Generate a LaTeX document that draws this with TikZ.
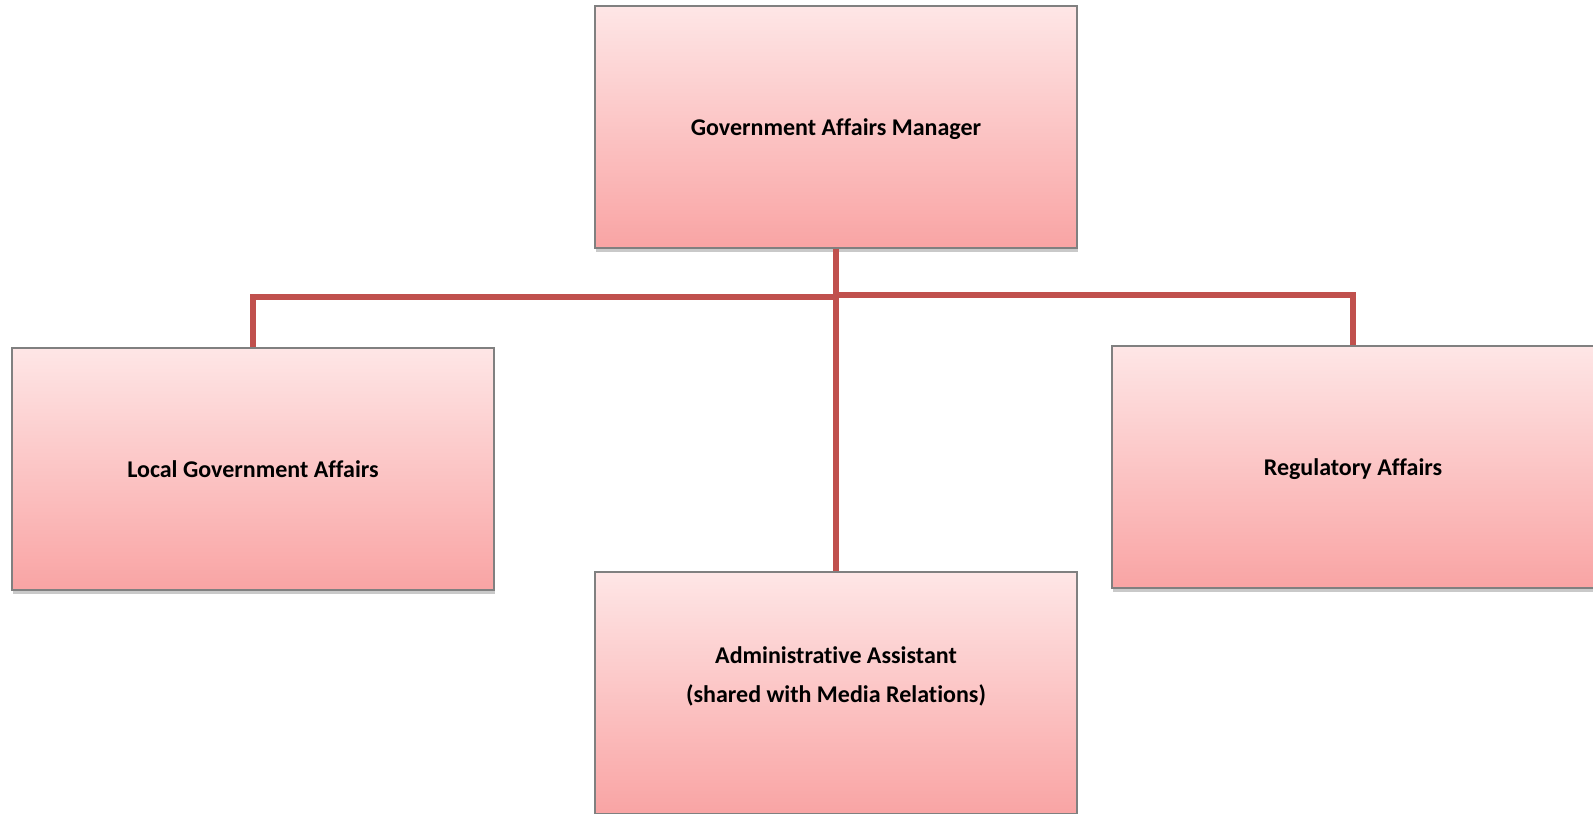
\documentclass[tikz,border=0pt]{standalone}
\usepackage{fontspec}
\setmainfont{Carlito}[Ligatures=NoCommon]
\usetikzlibrary{shadows}
\definecolor{linkred}{HTML}{C0504D}
\definecolor{boxtop}{RGB}{254,230,230}
\definecolor{boxbot}{RGB}{249,164,164}
\definecolor{boxedge}{RGB}{128,128,128}
\tikzset{
  orgbox/.style={draw=boxedge, line width=1.2bp, rectangle,
    minimum width=482bp, minimum height=242bp, inner sep=0pt,
    top color=boxtop, bottom color=boxbot,
    font=\fontsize{24bp}{39bp}\selectfont\bfseries, align=center,
    drop shadow={shadow xshift=1bp, shadow yshift=-4bp, opacity=0.3, fill=black!70}},
  nodepth/.style={text depth=0pt},
  conn/.style={draw=linkred, line width=6bp}
}
\begin{document}
\begin{tikzpicture}[x=1bp, y=-1bp]
  \useasboundingbox (0,0) rectangle (1593,813);

  % branch points on the reporting line
  \coordinate (busL) at (836,297);
  \coordinate (busR) at (836,295);

  % positions
  \node[orgbox, nodepth] (mgr) at (836,127) {Government Affairs Manager};
  \node[orgbox] (local) at (253,469) {Local Government Affairs};
  \node[orgbox, nodepth] (reg) at (1353,467) {Regulatory Affairs};
  \node[orgbox] (asst) at (836,693) {Administrative Assistant\\(shared with Media Relations)\\[-14bp]\strut};

  \draw[conn] (mgr.south) -- (asst.north);
  \draw[conn] (busL) -| (local.north);
  \draw[conn] (busR) -| (reg.north);
\end{tikzpicture}
\end{document}
